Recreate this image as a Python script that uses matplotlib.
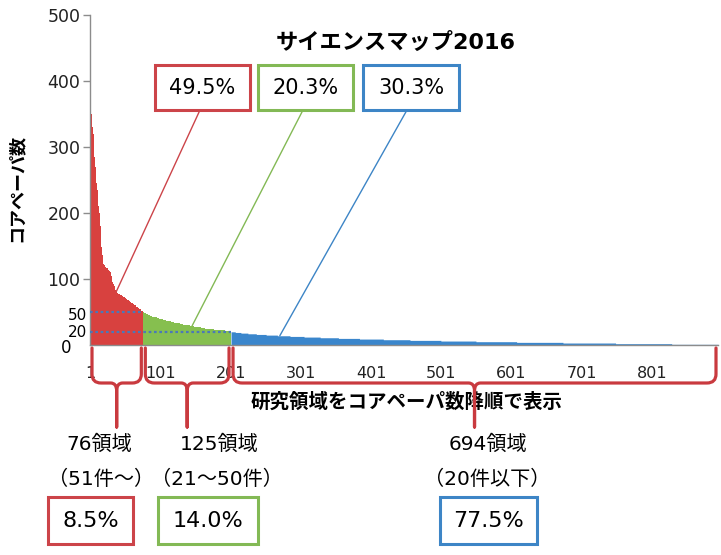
import numpy as np
import matplotlib
matplotlib.use('Agg')
import matplotlib.pyplot as plt
from matplotlib.path import Path
from matplotlib.patches import PathPatch, Rectangle
from matplotlib.transforms import blended_transform_factory

plt.rcParams['font.family'] = ['DejaVu Sans', 'Noto Sans CJK JP']

W, H = 721, 555

# core papers per research area, sorted descending
red_vals = [405, 380, 350, 330, 320, 300, 285, 270, 255, 245,
            235, 222, 210, 200, 180, 162, 148, 137, 128, 123,
            121, 119, 118, 117, 116, 115, 114, 112, 111, 110,
            105, 100, 96, 92, 89, 86, 83, 81, 80, 79,
            78, 78, 77, 76, 76, 75, 74, 73, 72, 72,
            71, 70, 69, 68, 68, 67, 66, 65, 64, 64,
            63, 62, 61, 60, 60, 59, 58, 57, 56, 56,
            55, 54, 53, 52, 52, 51]
# 21-50 papers: number of areas at each count
green_levels = [50, 49, 48, 47, 46, 45, 44, 43, 42, 41, 40, 39, 38, 37, 36,
                35, 34, 33, 32, 31, 30, 29, 28, 27, 26, 25, 24, 23, 22, 21]
green_counts = [1, 1, 2, 2, 2, 2, 3, 3, 3, 3, 3, 3, 4, 4, 4,
                4, 4, 4, 5, 5, 5, 5, 5, 5, 6, 6, 7, 8, 8, 8]
# 20 papers or fewer
blue_levels = [20, 19, 18, 17, 16, 15, 14, 13, 12, 11,
               10, 9, 8, 7, 6, 5, 4, 3, 2, 1]
blue_counts = [6, 8, 10, 12, 14, 16, 18, 20, 23, 26,
               30, 34, 38, 44, 50, 58, 66, 75, 80, 66]

title = 'サイエンスマップ2016'
xlabel = '研究領域をコアペーパ数降順で表示'
ylabel = 'コアペーパ数'
yticks = [100, 200, 300, 400, 500]
xticks = [1, 101, 201, 301, 401, 501, 601, 701, 801]
share_pcts = ['49.5%', '20.3%', '30.3%']
area_pcts = ['8.5%', '14.0%', '77.5%']
group_names = ['76領域', '125領域', '694領域']
group_ranges = ['（51件～）', '（21～50件）', '（20件以下）']
pointer_idx = [38, 146, 271]

fill_cols = ['#d8413f', '#86bf4f', '#3a86cc']
box_cols = ['#cc4449', '#83b955', '#3d85c6']
brace_col = '#c93a3f'

vals = np.concatenate([red_vals,
                       np.repeat(green_levels, green_counts),
                       np.repeat(blue_levels, blue_counts)]).astype(float)
n = len(vals)
bounds = np.cumsum([0, len(red_vals), sum(green_counts), sum(blue_counts)])
edges = np.arange(0.5, n + 1.5)


def fig_xy(x, y):
    # pixel position (from top left) -> figure fraction
    return x / W, 1 - y / H


fig = plt.figure(figsize=(W / 100, H / 100), dpi=100)
ax = fig.add_axes([90 / W, 1 - 345 / H, (718 - 90) / W, 330 / H])

for k in range(3):
    a, b = bounds[k], bounds[k + 1]
    seg = vals[a:b]
    ax.fill_between(edges[a:b + 1], np.append(seg, seg[-1]), 0,
                    step='post', color=fill_cols[k], lw=0)

ax.set_xlim(0.5, n + 0.5)
ax.set_ylim(0, 500)
ax.set_yticks(yticks)
ax.set_yticklabels([str(v) for v in yticks], fontsize=12.5, color='#222222')
ax.set_xticks(xticks)
ax.set_xticklabels([str(v) for v in xticks], fontsize=11.5, color='#222222')
ax.tick_params(axis='y', length=5, width=1, color='#8c8c8c', pad=2)
ax.tick_params(axis='x', length=0, pad=15)
for s in ['top', 'right']:
    ax.spines[s].set_visible(False)
for s in ['left', 'bottom']:
    ax.spines[s].set_color('#8c8c8c')
    ax.spines[s].set_linewidth(1)

# dotted guide lines at 50 and 20
ax.hlines([50, 20], 0.5, [bounds[1] + 0.5, bounds[2] + 0.5],
          colors='#4a78b8', linestyles=(0, (1.2, 1.2)), lw=1.6, zorder=3)

# extra y labels close to the axis
tr = blended_transform_factory(ax.transAxes, ax.transData)
ax.text(-0.004, 44, '50', transform=tr, ha='right', va='center', fontsize=11)
ax.text(-0.004, 19, '20', transform=tr, ha='right', va='center', fontsize=11)
ax.text(-0.029, -4, '0', transform=tr, ha='right', va='center', fontsize=12)

fig.text(*fig_xy(396, 42), title, ha='center', va='center',
         fontsize=16, weight='bold')
fig.text(*fig_xy(407, 402), xlabel, ha='center', va='center',
         fontsize=14, weight='bold')
fig.text(*fig_xy(17, 188), ylabel, ha='center', va='center',
         fontsize=13, weight='bold', rotation=90)

# share boxes on top with pointer lines
top_boxes = [(155, 250), (258, 353), (363, 459)]
line_starts = [200, 303, 407]
for k in range(3):
    x0, x1 = top_boxes[k]
    fig.add_artist(Rectangle(fig_xy(x0, 110), (x1 - x0) / W, 45 / H,
                             transform=fig.transFigure, facecolor='white',
                             edgecolor=box_cols[k], lw=2.2, zorder=5))
    fig.text(*fig_xy((x0 + x1) / 2, 88), share_pcts[k], ha='center',
             va='center', fontsize=15, zorder=6)
    i = pointer_idx[k]
    ax.annotate('', xy=(i, vals[i - 1]), xycoords='data',
                xytext=fig_xy(line_starts[k], 110),
                textcoords='figure fraction',
                arrowprops=dict(arrowstyle='-', color=box_cols[k], lw=1,
                                shrinkA=0, shrinkB=0))

# braces below the axis
def brace(xl, xr, top=348, bot=383, tip=427, r=9):
    xm = (xl + xr) / 2
    pts = [(xl, top), (xl, bot - r), (xl, bot), (xl + r, bot),
           (xm - 6, bot), (xm, bot), (xm, bot + 8), (xm, tip),
           (xm, bot + 8), (xm, bot), (xm + 6, bot),
           (xr - r, bot), (xr, bot), (xr, bot - r), (xr, top)]
    codes = [Path.MOVETO, Path.LINETO, Path.CURVE3, Path.CURVE3,
             Path.LINETO, Path.CURVE3, Path.CURVE3, Path.LINETO,
             Path.LINETO, Path.CURVE3, Path.CURVE3,
             Path.LINETO, Path.CURVE3, Path.CURVE3, Path.LINETO]
    p = Path([fig_xy(x, y) for x, y in pts], codes)
    fig.add_artist(PathPatch(p, transform=fig.transFigure, fill=False,
                             edgecolor=brace_col, lw=2.3,
                             capstyle='round', joinstyle='round', zorder=4))


bx = ax.transData.transform([(b + 0.5, 0) for b in bounds])[:, 0]
for k in range(3):
    brace(bx[k] + 2, bx[k + 1] - 2)

name_x = [99, 219, 488]
range_x = [101, 217, 487]
low_boxes = [(48, 133), (158, 258), (440, 537)]
for k in range(3):
    fig.text(*fig_xy(name_x[k], 444), group_names[k], ha='center',
             va='center', fontsize=14.5)
    fig.text(*fig_xy(range_x[k], 479), group_ranges[k], ha='center',
             va='center', fontsize=14.5)
    x0, x1 = low_boxes[k]
    fig.add_artist(Rectangle(fig_xy(x0, 544), (x1 - x0) / W, 47 / H,
                             transform=fig.transFigure, facecolor='white',
                             edgecolor=box_cols[k], lw=2.2, zorder=5))
    fig.text(*fig_xy((x0 + x1) / 2, 521), area_pcts[k], ha='center',
             va='center', fontsize=16, zorder=6)

fig.savefig('out.png', dpi=100)
